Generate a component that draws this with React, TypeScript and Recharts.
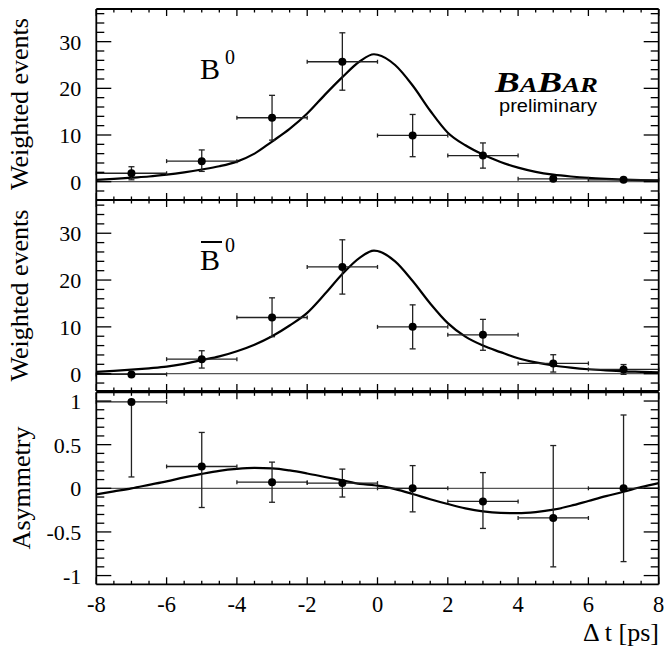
import React from 'react';
import { ComposedChart, Line, Scatter, XAxis, YAxis, ErrorBar, ReferenceLine } from 'recharts';

// ---------- data ----------
const binCenters = [-7, -5, -3, -1, 1, 3, 5, 7];
const binHalfWidth = [1, 1, 1, 1, 1, 1, 1, 1];

const b0Values = [1.8, 4.4, 13.7, 25.7, 9.9, 5.6, 0.6, 0.4];
const b0ErrUp = [1.4, 2.4, 4.8, 6.2, 4.5, 2.7, 0.4, 0.3];
const b0ErrDown = [1.4, 2.2, 4.8, 6.1, 4.55, 2.7, 0.4, 0.3];

const b0barValues = [-0.15, 3.1, 12.0, 22.8, 10.0, 8.3, 2.2, 0.9];
const b0barErrUp = [0.3, 1.8, 4.2, 5.8, 4.7, 3.3, 1.85, 1.05];
const b0barErrDown = [0.3, 1.9, 4.1, 5.8, 4.7, 3.3, 1.85, 1.05];

const asymValues = [0.99, 0.25, 0.07, 0.06, 0.0, -0.15, -0.34, 0.0];
const asymErrUp = [0.01, 0.39, 0.23, 0.16, 0.26, 0.33, 0.83, 0.84];
const asymErrDown = [0.86, 0.47, 0.23, 0.16, 0.27, 0.31, 0.56, 0.84];

const curveX = [-8, -7.5, -7, -6.5, -6, -5.5, -5, -4.5, -4, -3.5, -3, -2.5, -2, -1.5, -1, -0.5, -0.1, 0, 0.5, 1, 1.5, 2, 2.5, 3, 3.5, 4, 4.5, 5, 5.5, 6, 6.5, 7, 7.5, 8];
const b0Curve = [0.4, 0.6, 0.85, 1.1, 1.5, 2.0, 2.6, 3.3, 4.3, 6.0, 8.6, 11.3, 14.6, 18.6, 22.4, 25.8, 27.3, 27.2, 25.0, 20.6, 15.2, 10.5, 7.8, 5.8, 4.2, 3.0, 2.1, 1.5, 1.1, 0.8, 0.6, 0.45, 0.35, 0.25];
const b0barCurve = [0.4, 0.6, 0.85, 1.15, 1.5, 2.1, 2.9, 3.7, 4.8, 6.2, 8.0, 10.3, 13.0, 17.0, 21.3, 24.8, 26.3, 26.2, 24.0, 19.8, 15.0, 10.8, 7.9, 6.0, 4.6, 3.3, 2.4, 1.75, 1.3, 0.95, 0.7, 0.5, 0.4, 0.3];
const asymCurve = [-0.07, -0.035, 0.0, 0.04, 0.08, 0.125, 0.165, 0.2, 0.222, 0.233, 0.228, 0.205, 0.17, 0.13, 0.09, 0.05, 0.035, 0.03, -0.01, -0.065, -0.125, -0.18, -0.23, -0.265, -0.282, -0.285, -0.272, -0.245, -0.2, -0.145, -0.09, -0.04, 0.015, 0.06];

const xTicks = [-8, -7.5, -7, -6.5, -6, -5.5, -5, -4.5, -4, -3.5, -3, -2.5, -2, -1.5, -1, -0.5, 0, 0.5, 1, 1.5, 2, 2.5, 3, 3.5, 4, 4.5, 5, 5.5, 6, 6.5, 7, 7.5, 8];
const xMajorLabels = [-8, -6, -4, -2, 0, 2, 4, 6, 8];
const countTicks = [-2, 0, 2, 4, 6, 8, 10, 12, 14, 16, 18, 20, 22, 24, 26, 28, 30, 32, 34, 36];
const countMajorLabels = [0, 10, 20, 30];
const asymTicks = [-1, -0.9, -0.8, -0.7, -0.6, -0.5, -0.4, -0.3, -0.2, -0.1, 0, 0.1, 0.2, 0.3, 0.4, 0.5, 0.6, 0.7, 0.8, 0.9, 1];
const asymMajorLabels = [-1, -0.5, 0, 0.5, 1];

// ---------- helpers ----------
const pts = (vals: number[], up: number[], down: number[]) =>
  binCenters.map((x, i) => ({ x, y: vals[i], ex: [binHalfWidth[i], binHalfWidth[i]], ey: [down[i], up[i]] }));
const curve = (vals: number[]) => curveX.map((x, i) => ({ x, y: vals[i] }));

const isIn = (arr: number[], v: number) => arr.some((a) => Math.abs(a - v) < 1e-9);
const SERIF = '"Liberation Serif", "Times New Roman", serif';
const SANS = '"Liberation Sans", Arial, sans-serif';

const xTick = (side: 'top' | 'bottom', showLabel: boolean) => (props: any) => {
  const { x, y, payload } = props;
  const v = payload.value;
  const major = isIn(xMajorLabels, v);
  const len = major ? 7 : 3.5;
  const dir = side === 'bottom' ? -1 : 1;
  return (
    <g>
      <line x1={x} y1={y} x2={x} y2={y + dir * len} stroke="#000" strokeWidth={1.3} />
      {showLabel && major && (
        <text x={x} y={y + 28} textAnchor="middle" fontFamily={SERIF} fontSize={22.5} fill="#000">
          {String(v)}
        </text>
      )}
    </g>
  );
};

const yTick = (side: 'left' | 'right', majors: number[], showLabel: boolean) => (props: any) => {
  const { x, y, payload } = props;
  const v = payload.value;
  const major = isIn(majors, v);
  const len = major ? 15 : 8;
  const dir = side === 'left' ? 1 : -1;
  return (
    <g>
      <line x1={x} y1={y} x2={x + dir * len} y2={y} stroke="#000" strokeWidth={1.3} />
      {showLabel && major && (
        <text x={x - 15} y={y + 8} textAnchor="end" fontFamily={SERIF} fontSize={22} fill="#000">
          {String(v)}
        </text>
      )}
    </g>
  );
};

const dotShape = (p: any) => <circle cx={p.cx} cy={p.cy} r={4} fill="#000" />;

type PanelProps = {
  top: number;
  height: number;
  margin: { top: number; right: number; bottom: number; left: number };
  domain: [number, number];
  yTicks: number[];
  yMajors: number[];
  points: any[];
  line: any[];
  showXLabels: boolean;
};

const axisLineStyle = { stroke: '#000', strokeWidth: 1.8 };

const Panel = ({ top, height, margin, domain, yTicks, yMajors, points, line, showXLabels }: PanelProps) => (
  <div style={{ position: 'absolute', left: 0, top, width: 665, height }}>
    <ComposedChart
      width={665}
      height={height}
      margin={{ top: margin.top - 1, right: margin.right - 1, bottom: margin.bottom - 1, left: margin.left - 1 }}
    >
      <XAxis
        xAxisId="b"
        dataKey="x"
        type="number"
        domain={[-8, 8]}
        allowDataOverflow
        ticks={xTicks}
        interval={0}
        orientation="bottom"
        height={1}
        tickSize={0}
        tickMargin={0}
        tickLine={false}
        axisLine={axisLineStyle}
        tick={xTick('bottom', showXLabels)}
      />
      <XAxis
        xAxisId="t"
        dataKey="x"
        type="number"
        domain={[-8, 8]}
        allowDataOverflow
        ticks={xTicks}
        interval={0}
        orientation="top"
        height={1}
        tickSize={0}
        tickMargin={0}
        tickLine={false}
        axisLine={axisLineStyle}
        tick={xTick('top', false)}
      />
      <YAxis
        yAxisId="l"
        type="number"
        domain={domain}
        allowDataOverflow
        ticks={yTicks}
        interval={0}
        orientation="left"
        width={1}
        tickSize={0}
        tickMargin={0}
        tickLine={false}
        axisLine={axisLineStyle}
        tick={yTick('left', yMajors, true)}
      />
      <YAxis
        yAxisId="r"
        type="number"
        domain={domain}
        allowDataOverflow
        ticks={yTicks}
        interval={0}
        orientation="right"
        width={1}
        tickSize={0}
        tickMargin={0}
        tickLine={false}
        axisLine={axisLineStyle}
        tick={yTick('right', yMajors, false)}
      />
      <ReferenceLine xAxisId="b" yAxisId="l" y={0} stroke="#555" strokeWidth={1.3} />
      <Line
        xAxisId="b"
        yAxisId="l"
        data={line}
        dataKey="y"
        type="monotone"
        dot={false}
        stroke="#000"
        strokeWidth={2.2}
        isAnimationActive={false}
      />
      <Scatter xAxisId="b" yAxisId="l" data={points} dataKey="y" shape={dotShape} isAnimationActive={false}>
        <ErrorBar dataKey="ey" direction="y" width={3} stroke="#222" strokeWidth={1.3} />
        <ErrorBar dataKey="ex" direction="x" width={2} stroke="#222" strokeWidth={1.3} />
      </Scatter>
    </ComposedChart>
  </div>
);

export default function App() {
  const m1 = { top: 9, right: 6.3, bottom: 5, left: 96.3 };
  const m2 = { top: 5, right: 6.3, bottom: 5, left: 96.3 };
  const m3 = { top: 6.3, right: 6.3, bottom: 67.7, left: 96.3 };
  return (
    <div style={{ position: 'absolute', left: 0, top: 0, width: 665, height: 652, background: '#fff' }}>
      <Panel
        top={0}
        height={205}
        margin={m1}
        domain={[-3.93, 37]}
        yTicks={countTicks}
        yMajors={countMajorLabels}
        points={pts(b0Values, b0ErrUp, b0ErrDown)}
        line={curve(b0Curve)}
        showXLabels={false}
      />
      <Panel
        top={195}
        height={201}
        margin={m2}
        domain={[-3.7, 37.1]}
        yTicks={countTicks}
        yMajors={countMajorLabels}
        points={pts(b0barValues, b0barErrUp, b0barErrDown)}
        line={curve(b0barCurve)}
        showXLabels={false}
      />
      <Panel
        top={386}
        height={266}
        margin={m3}
        domain={[-1.1, 1.1]}
        yTicks={asymTicks}
        yMajors={asymMajorLabels}
        points={pts(asymValues, asymErrUp, asymErrDown)}
        line={curve(asymCurve)}
        showXLabels={true}
      />
      <svg
        width={665}
        height={652}
        style={{ position: 'absolute', left: 0, top: 0, pointerEvents: 'none' }}
      >
        <text transform="translate(28,104) rotate(-90)" textAnchor="middle" fontFamily={SERIF} fontSize={26} fill="#000">
          Weighted events
        </text>
        <text transform="translate(28,295.5) rotate(-90)" textAnchor="middle" fontFamily={SERIF} fontSize={26} fill="#000">
          Weighted events
        </text>
        <text transform="translate(30,488) rotate(-90)" textAnchor="middle" fontFamily={SERIF} fontSize={26} fill="#000">
          Asymmetry
        </text>
        <text x={659} y={641} textAnchor="end" fontFamily={SERIF} fontSize={26} fill="#000">
          Δ t [ps]
        </text>
        <text x={200} y={78.5} fontFamily={SERIF} fontSize={30} fill="#000">
          B
          <tspan dx={5} dy={-15} fontSize={20}>0</tspan>
        </text>
        <line x1={201} y1={242} x2={222} y2={242} stroke="#000" strokeWidth={2} />
        <text x={200} y={270} fontFamily={SERIF} fontSize={30} fill="#000">
          B
          <tspan dx={5} dy={-18} fontSize={20}>0</tspan>
        </text>
        <text
          x={495}
          y={92}
          fontFamily={SERIF}
          fontWeight="bold"
          fontStyle="italic"
          fill="#000"
          textLength={103}
          lengthAdjust="spacingAndGlyphs"
        >
          <tspan fontSize={29}>B</tspan>
          <tspan fontSize={21}>A</tspan>
          <tspan fontSize={29}>B</tspan>
          <tspan fontSize={21}>AR</tspan>
        </text>
        <text x={499} y={111.5} fontFamily={SANS} fontSize={18} fill="#000" textLength={98} lengthAdjust="spacingAndGlyphs">
          preliminary
        </text>
      </svg>
    </div>
  );
}
